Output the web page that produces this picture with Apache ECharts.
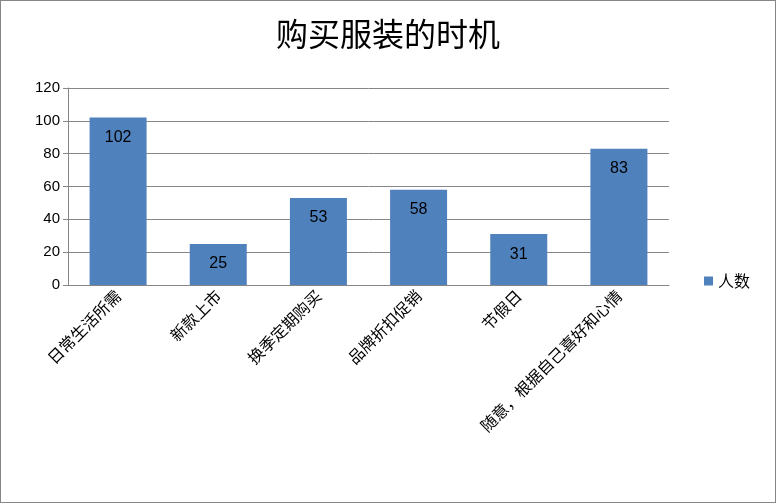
<!DOCTYPE html>
<html><head><meta charset="utf-8">
<script src="https://cdn.jsdelivr.net/npm/echarts@6/dist/echarts.min.js"></script>
<style>html,body{margin:0;padding:0;background:#fff}#c{width:774px;height:501px;border:1px solid #868686}</style>
</head><body><div id="c"></div>
<script>
var categories=["日常生活所需","新款上市","换季定期购买","品牌折扣促销","节假日","随意，根据自己喜好和心情"];
var values=[102,25,53,58,31,83];
var seriesName="人数";
var chart=echarts.init(document.getElementById('c'));
chart.setOption({
 animation:false,
 title:{text:"购买服装的时机",left:'center',top:12,textStyle:{fontFamily:'"Noto Sans CJK SC"',fontSize:32,fontWeight:'normal',color:'#000'}},
 legend:{right:20,top:267,orient:'vertical',itemWidth:9,itemHeight:9,itemGap:6,icon:'rect',textStyle:{fontSize:16,fontFamily:'"Noto Sans CJK SC"',color:'#000'},data:[seriesName]},
 grid:{left:67,top:87,width:601,height:197},
 xAxis:{type:'category',data:categories,axisTick:{show:false},axisLine:{lineStyle:{color:'#868686'}},
  axisLabel:{rotate:45,interval:0,fontSize:16,fontFamily:'"Noto Sans CJK SC"',color:'#000',margin:8}},
 yAxis:{type:'value',min:0,max:120,interval:20,axisLine:{show:true,lineStyle:{color:'#868686'}},axisTick:{show:true,lineStyle:{color:'#868686'}},
  splitLine:{lineStyle:{color:'#868686'}},axisLabel:{fontSize:15,color:'#000',fontFamily:'"Liberation Sans"'}},
 series:[{name:seriesName,type:'bar',data:values,barWidth:57,itemStyle:{color:'#4f81bd'},
  label:{show:true,position:'insideTop',distance:12,fontSize:16,color:'#000',fontFamily:'"Liberation Sans"'}}]
});
</script></body></html>
